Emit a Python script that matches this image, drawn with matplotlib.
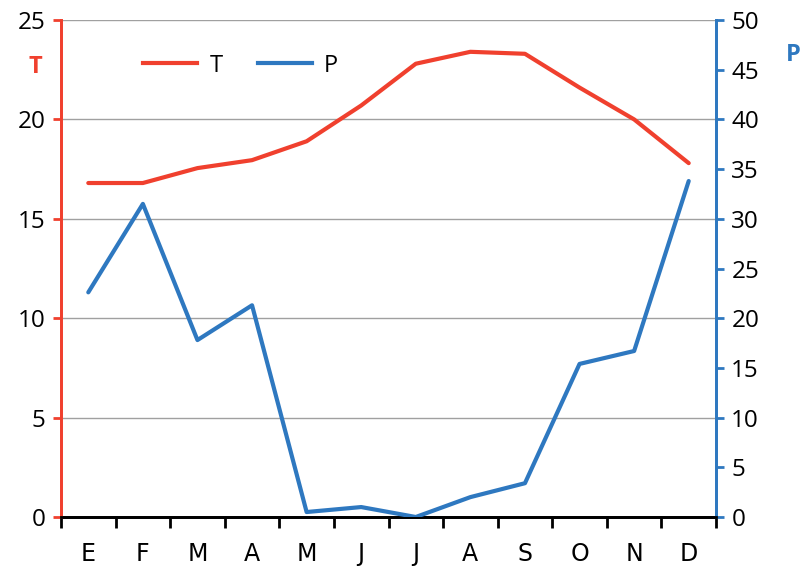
import matplotlib.pyplot as plt
from matplotlib.lines import Line2D
import numpy as np

plt.rcParams['font.family'] = ['Open Sans', 'DejaVu Sans']

months = ['E', 'F', 'M', 'A', 'M', 'J', 'J', 'A', 'S', 'O', 'N', 'D']
temp = [16.8, 16.8, 17.55, 17.95, 18.9, 20.7, 22.8, 23.4, 23.3, 21.6, 20.0, 17.8]
precip = [22.6, 31.5, 17.8, 21.3, 0.5, 1.0, 0.0, 2.0, 3.4, 15.4, 16.7, 33.8]

RED = '#F0402E'
BLUE = '#2E78C0'

fig = plt.figure(figsize=(8.01, 5.68), dpi=100)
ax = fig.add_axes([61 / 801, 1 - 517 / 568, (716 - 61) / 801, (517 - 20) / 568])
ax2 = ax.twinx()

x = np.arange(len(months))
ax.plot(x, temp, color=RED, lw=3, solid_capstyle='round', zorder=3)
ax2.plot(x, precip, color=BLUE, lw=3, solid_capstyle='round', zorder=3)

ax.set_xlim(-0.5, 11.5)
ax.set_ylim(0, 25)
ax2.set_ylim(0, 50)
ax.set_yticks(np.arange(0, 26, 5))
ax2.set_yticks(np.arange(0, 51, 5))
ax.yaxis.grid(True, color='#a0a0a0', lw=1)
ax.set_axisbelow(True)

ax.set_xticks(x)
ax.set_xticklabels(months, family=['Liberation Sans Narrow', 'DejaVu Sans'], fontsize=17)
ax.set_xticks(np.arange(-0.5, 12, 1), minor=True)
ax.tick_params(axis='x', which='major', length=0, pad=18)
ax.tick_params(axis='x', which='minor', length=8, width=2, color='black', direction='out')

ax.tick_params(axis='y', length=6, width=2, color=RED, labelsize=17.5, pad=5)
ax2.tick_params(axis='y', length=6, width=2, color=BLUE, labelsize=17.5, pad=5)

for a in (ax, ax2):
    a.spines['top'].set_visible(False)
    a.spines['left'].set_color(RED)
    a.spines['right'].set_color(BLUE)
    a.spines['left'].set_linewidth(2)
    a.spines['right'].set_linewidth(2)
    a.spines['bottom'].set_linewidth(2)
    a.spines['bottom'].set_color('black')

fig.text(35 / 801, 1 - 67 / 568, 'T', color=RED, fontsize=17, fontweight='bold', ha='center', va='center')
fig.text(793 / 801, 1 - 55 / 568, 'P', color=BLUE, fontsize=17, fontweight='bold', ha='center', va='center')

handles = [Line2D([], [], color=RED, lw=3), Line2D([], [], color=BLUE, lw=3)]
ax.legend(handles, ['T', 'P'], loc='upper left', bbox_to_anchor=(0.093, 0.975), ncol=2,
          frameon=False, fontsize=17, handlelength=2.3, columnspacing=1.5, handletextpad=0.5)

fig.savefig('out.png', dpi=100)
